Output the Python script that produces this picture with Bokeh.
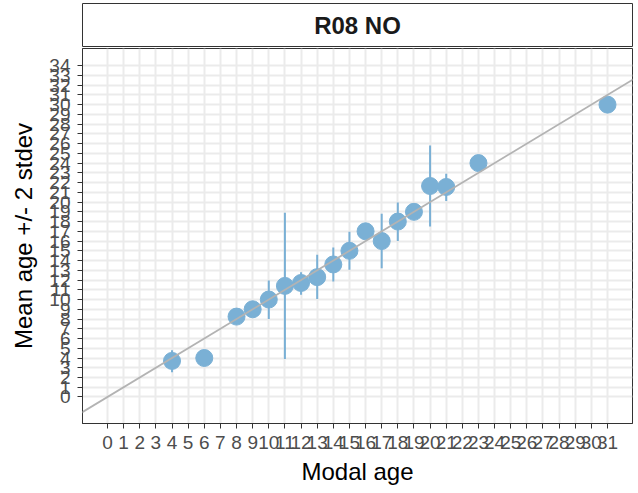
from bokeh.plotting import figure
from bokeh.layouts import column
from bokeh.models import FixedTicker, Slope, Label, ColumnDataSource, Range1d
from bokeh.embed import file_html
from bokeh.resources import INLINE

# ---- data ----
panel_title = "R08 NO"
modal_age = [4, 6, 8, 9, 10, 11, 12, 13, 14, 15, 16, 17, 18, 19, 20, 21, 23, 31]
mean_age = [3.7, 4.0, 8.25, 9.0, 10.0, 11.4, 11.7, 12.3, 13.6, 15.0, 17.0, 16.0, 18.0, 19.0, 21.65, 21.55, 24.0, 30.0]
lower = [2.55, 4.0, 8.25, 9.0, 8.0, 3.9, 10.5, 10.05, 11.85, 13.05, 17.0, 13.2, 16.0, 19.0, 17.5, 20.1, 24.0, 30.0]
upper = [4.8, 4.0, 8.25, 9.0, 11.95, 18.9, 12.8, 14.6, 15.35, 16.95, 17.0, 18.8, 19.95, 19.0, 25.8, 22.9, 24.0, 30.0]
x_ticks = list(range(0, 32))
y_ticks = list(range(0, 35))

FONT = "Liberation Sans"
BLUE = "#7AB0D5"
W = 634
LEFT = 82
RIGHT = 2

# ---- strip (facet label) ----
strip = figure(width=W, height=47, x_range=Range1d(0, 1), y_range=Range1d(0, 1),
               toolbar_location=None, output_backend="svg",
               x_axis_location=None, y_axis_location=None,
               min_border_left=LEFT, min_border_right=RIGHT,
               min_border_top=3, min_border_bottom=1)
strip.xgrid.visible = False
strip.ygrid.visible = False
strip.outline_line_color = "#333333"
strip.outline_line_width = 1
strip.background_fill_color = "white"
strip.border_fill_color = "white"
strip.add_layout(Label(x=0.5, y=0.5, text=panel_title, text_align="center",
                       text_baseline="middle", text_font=FONT, text_font_size="24px",
                       text_font_style="bold", text_color="#1A1A1A"))

# ---- main panel ----
src = ColumnDataSource(dict(x=modal_age, y=mean_age, lo=lower, hi=upper))

p = figure(width=W, height=440, x_range=Range1d(-1.55, 32.55), y_range=Range1d(-2.72, 35.76),
           toolbar_location=None, output_backend="svg",
           min_border_left=LEFT, min_border_right=RIGHT,
           min_border_top=1, min_border_bottom=64,
           x_axis_label="Modal age", y_axis_label="Mean age +/- 2 stdev")
p.background_fill_color = "white"
p.border_fill_color = "white"
p.outline_line_color = "#333333"
p.outline_line_width = 1

p.xaxis.ticker = FixedTicker(ticks=x_ticks)
p.yaxis.ticker = FixedTicker(ticks=y_ticks)
for ax in (p.xaxis[0], p.yaxis[0]):
    ax.major_label_text_font = FONT
    ax.major_label_text_font_size = "19px"
    ax.major_label_text_color = "#4D4D4D"
    ax.axis_label_text_font = FONT
    ax.axis_label_text_font_size = "24px"
    ax.axis_label_text_font_style = "normal"
    ax.axis_label_text_color = "#000000"
    ax.axis_line_color = "#333333"
    ax.axis_line_width = 1
    ax.major_tick_line_color = "#333333"
    ax.major_tick_out = 5
    ax.major_tick_in = 0
    ax.minor_tick_line_color = None
p.xaxis.major_label_standoff = 7
p.yaxis.major_label_standoff = 7
p.xaxis.axis_label_standoff = 6
p.yaxis.axis_label_standoff = 9

p.xgrid.grid_line_color = "#EBEBEB"
p.ygrid.grid_line_color = "#EBEBEB"
p.xgrid.grid_line_width = 2
p.ygrid.grid_line_width = 2

p.segment(x0="x", y0="lo", x1="x", y1="hi", source=src, line_color=BLUE, line_width=2)
p.scatter(x="x", y="y", source=src, size=17, fill_color=BLUE, line_color=BLUE)
p.add_layout(Slope(gradient=1, y_intercept=0, line_color="#B3B3B3", line_width=1.8))

layout = column(strip, p, spacing=0)
open("out.html", "w").write(file_html(layout, INLINE))
